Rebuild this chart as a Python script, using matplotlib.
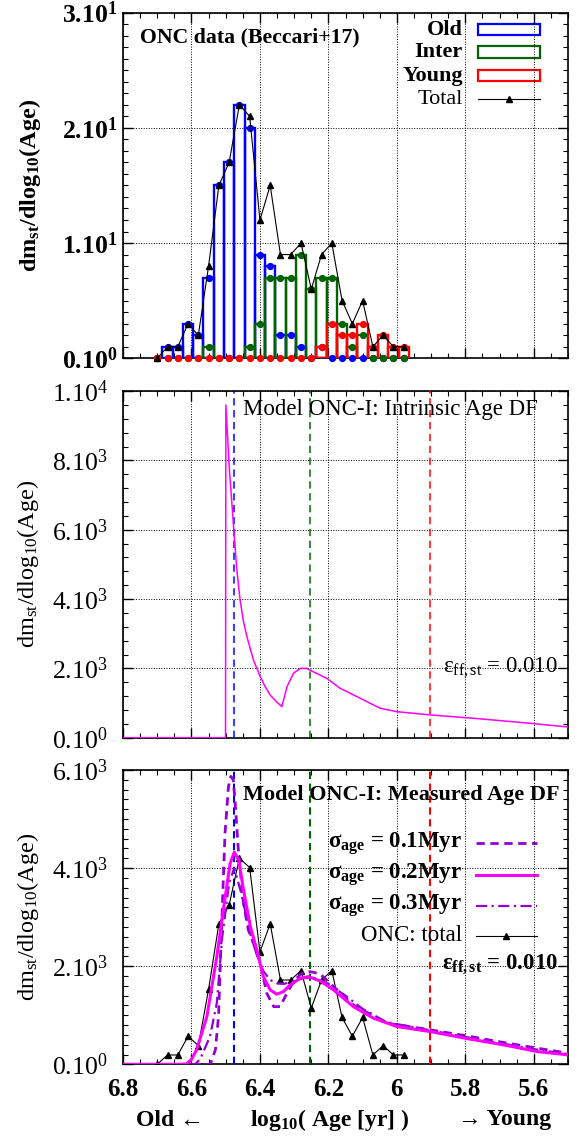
import matplotlib
matplotlib.use('Agg')
import matplotlib.pyplot as plt
import numpy as np
from matplotlib.ticker import FixedLocator, MultipleLocator, FixedFormatter, NullFormatter
from matplotlib.lines import Line2D
from matplotlib.patches import Rectangle

plt.rcParams['font.family'] = ['Liberation Serif', 'DejaVu Serif']
plt.rcParams['mathtext.fontset'] = 'custom'
plt.rcParams['mathtext.rm'] = 'Liberation Serif'
plt.rcParams['mathtext.it'] = 'Liberation Serif:italic'
plt.rcParams['mathtext.bf'] = 'Liberation Serif:bold'

# ---------------- data ----------------
bin_centers = [6.70, 6.67, 6.64, 6.61, 6.58, 6.55, 6.52, 6.49, 6.46, 6.43, 6.40, 6.37, 6.34,
               6.31, 6.28, 6.25, 6.22, 6.19, 6.16, 6.13, 6.10, 6.07, 6.04, 6.01, 5.98]
old_counts = [0, 1, 1, 3, 2, 7, 15, 17, 22, 20, 9, 8, 2, 2, 1, 0, 1, 0, 0, 0, 0, 0, 0, 0, 0]
inter_counts = [0, 0, 0, 0, 0, 1, 0, 0, 0, 1, 3, 7, 7, 7, 9, 6, 7, 7, 3, 1, 2, 0, 0, 0, 0]
young_counts = [0, 0, 0, 0, 0, 0, 0, 0, 0, 0, 0, 0, 0, 0, 0, 0, 1, 3, 2, 2, 3, 1, 2, 1, 1]
total_counts = [o + i + y for o, i, y in zip(old_counts, inter_counts, young_counts)]
onc_scale = 191.0   # normalisation of the ONC total in the bottom panel

age_bounds = [6.477, 6.255, 5.903]

intr_x = [6.80, 6.5005, 6.4995, 6.494, 6.489, 6.483, 6.477, 6.468, 6.458, 6.448, 6.438, 6.419,
          6.399, 6.385, 6.370, 6.352, 6.336, 6.321, 6.302, 6.282, 6.263, 6.244, 6.204, 6.166,
          6.136, 6.107, 6.049, 6.000, 5.900, 5.776, 5.630, 5.50]
intr_y = [0, 0, 9600, 8600, 7700, 6900, 6090, 4900, 3970, 3350, 2915, 2240,
          1760, 1480, 1230, 1040, 895, 1470, 1860, 2000, 2000, 1900, 1710, 1425,
          1280, 1137, 850, 750, 655, 560, 433, 309]

s01_x = [6.80, 6.545, 6.53, 6.521, 6.511, 6.502, 6.492, 6.485, 6.478, 6.473, 6.463, 6.448,
         6.434, 6.419, 6.399, 6.380, 6.360, 6.341, 6.321, 6.302, 6.278, 6.253, 6.224, 6.185,
         6.127, 6.029, 5.902, 5.785, 5.688, 5.590, 5.50]
s01_y = [0, 0, 300, 975, 3010, 4710, 5660, 5870, 5800, 5390, 4370, 3280,
         2740, 2470, 2060, 1450, 1177, 1177, 1450, 1687, 1857, 1890, 1843, 1585,
         1210, 839, 703, 567, 445, 330, 228]

s02_x = [6.80, 6.63, 6.614, 6.60, 6.585, 6.555, 6.526, 6.507, 6.487, 6.475, 6.462, 6.448,
         6.428, 6.409, 6.390, 6.370, 6.351, 6.331, 6.312, 6.282, 6.258, 6.224, 6.185, 6.127,
         6.068, 6.000, 5.902, 5.785, 5.688, 5.590, 5.50]
s02_y = [0, 0, 10, 100, 295, 975, 2196, 3147, 4098, 4322, 4165, 3555,
         2807, 2332, 1788, 1517, 1430, 1483, 1619, 1756, 1788, 1700, 1517, 1177,
         941, 770, 668, 513, 397, 261, 193]

s03_x = [6.80, 6.59, 6.575, 6.546, 6.526, 6.51, 6.49, 6.475, 6.455, 6.43, 6.41, 6.39, 6.37,
         6.35, 6.33, 6.30, 6.27, 6.24, 6.20, 6.15, 6.10, 6.03, 5.90, 5.785, 5.688, 5.59, 5.50]
s03_y = [0, 0, 100, 566, 1250, 2600, 3700, 4000, 3500, 2700, 2250, 1900, 1720,
         1650, 1640, 1700, 1760, 1760, 1640, 1400, 1130, 860, 690, 540, 420, 300, 210]

xtick_vals = [6.8, 6.6, 6.4, 6.2, 6.0, 5.8, 5.6]
xtick_labels = ['6.8', '6.6', '6.4', '6.2', '6', '5.8', '5.6']

top_yticks = [0, 10, 20, 30]
top_ylabels = [r'$\mathbf{0.10^{0}}$', r'$\mathbf{1.10^{1}}$', r'$\mathbf{2.10^{1}}$', r'$\mathbf{3.10^{1}}$']
mid_yticks = [0, 2000, 4000, 6000, 8000, 10000]
mid_ylabels = [r'$\mathrm{0.10^{0}}$', r'$\mathrm{2.10^{3}}$', r'$\mathrm{4.10^{3}}$',
               r'$\mathrm{6.10^{3}}$', r'$\mathrm{8.10^{3}}$', r'$\mathrm{1.10^{4}}$']
bot_yticks = [0, 2000, 4000, 6000]
bot_ylabels = [r'$\mathrm{0.10^{0}}$', r'$\mathrm{2.10^{3}}$', r'$\mathrm{4.10^{3}}$', r'$\mathrm{6.10^{3}}$']

BLUE = '#0000ff'
GREEN = '#006400'
RED = '#ff0000'
PURPLE = '#9400d3'
MAGENTA = '#ff00ff'

# ---------------- figure ----------------
fig = plt.figure(figsize=(5.8, 11.37), dpi=100)
ax1 = fig.add_axes([0.2121, 0.6849, 0.7672, 0.3040])
ax2 = fig.add_axes([0.2121, 0.3512, 0.7672, 0.3048])
ax3 = fig.add_axes([0.2121, 0.0639, 0.7672, 0.2589])

XT_FS = 18
YT_FS = 18.5


def style(ax, yticks, ylabels, yminor, ylim, show_x, ypad):
    ax.set_xlim(6.8, 5.5)
    ax.set_ylim(*ylim)
    ax.xaxis.set_major_locator(FixedLocator(xtick_vals))
    ax.xaxis.set_minor_locator(MultipleLocator(0.05))
    ax.yaxis.set_major_locator(FixedLocator(yticks))
    ax.yaxis.set_minor_locator(MultipleLocator(yminor))
    ax.yaxis.set_major_formatter(FixedFormatter(ylabels))
    if show_x:
        ax.xaxis.set_major_formatter(FixedFormatter(xtick_labels))
        for t in ax.get_xticklabels():
            t.set_fontweight('bold')
    else:
        ax.xaxis.set_major_formatter(NullFormatter())
    ax.tick_params(which='both', direction='in', top=True, right=True)
    ax.tick_params(which='major', length=7, width=1.0, labelsize=XT_FS, pad=10)
    ax.tick_params(axis='y', which='major', labelsize=YT_FS, pad=ypad)
    ax.tick_params(which='minor', length=3.5, width=0.8)
    ax.grid(True, which='major', color='k', linestyle=(0, (1, 1.6)), linewidth=0.7)
    for s in ax.spines.values():
        s.set_linewidth(1.2)
    ax.set_axisbelow(False)


style(ax1, top_yticks, top_ylabels, 1, (0, 30), False, 4)
style(ax2, mid_yticks, mid_ylabels, 400, (0, 10000), False, 11)
style(ax3, bot_yticks, bot_ylabels, 200, (0, 6000), True, 11)

# ---------------- top panel ----------------
bc = np.array(bin_centers)
for counts, col, z in [(old_counts, BLUE, 3), (inter_counts, GREEN, 4), (young_counts, RED, 5)]:
    c = np.array(counts)
    m = c > 0
    ax1.bar(bc[m], c[m], width=0.03, fill=False, edgecolor=col, linewidth=1.7, zorder=z)
for counts, col, z in [(old_counts, BLUE, 6), (inter_counts, GREEN, 7), (young_counts, RED, 8)]:
    ax1.plot(bc, counts, 'o', color=col, ms=4.2, zorder=z, clip_on=False)
ax1.plot(bc, total_counts, '-^', color='k', lw=0.8, ms=5, zorder=9, clip_on=False)

ax1.text(0.038, 0.927, 'ONC data (Beccari+17)', transform=ax1.transAxes, fontsize=15.7,
         fontweight='bold', ha='left', va='center')

leg_rows = [0.951, 0.886, 0.817, 0.750]
for (lab, col, bold), yy in zip([('Old', BLUE, True), ('Inter', GREEN, True), ('Young', RED, True)], leg_rows[:3]):
    ax1.text(0.764, yy, lab, transform=ax1.transAxes, fontsize=16,
             fontweight='bold' if bold else 'normal', ha='right', va='center')
    ax1.add_patch(Rectangle((0.798, yy - 0.016), 0.139, 0.032, transform=ax1.transAxes,
                            fill=False, edgecolor=col, linewidth=1.6, clip_on=False))
ax1.text(0.764, leg_rows[3], 'Total', transform=ax1.transAxes, fontsize=16, ha='right', va='center')
ax1.add_line(Line2D([0.798, 0.937], [leg_rows[3]] * 2, transform=ax1.transAxes, color='k', lw=0.8))
ax1.add_line(Line2D([0.8675], [leg_rows[3]], transform=ax1.transAxes, color='k', marker='^', ms=5))

# ---------------- middle panel ----------------
for xb, col in zip(age_bounds, [BLUE, GREEN, RED]):
    ax2.axvline(xb, color=col, lw=1.5, dashes=(3.5, 2.2), alpha=0.75, zorder=3)
ax2.plot(intr_x, intr_y, color=MAGENTA, lw=1.1, zorder=5)
ax2.text(0.270, 0.946, 'Model ONC-I: Intrinsic Age DF', transform=ax2.transAxes, fontsize=16.5,
         ha='left', va='center')
ax2.text(0.978, 0.201, r'$\mathrm{ε_{ff,st}}$ = 0.010', transform=ax2.transAxes, fontsize=16.5,
         ha='right', va='center')

# ---------------- bottom panel ----------------
for xb, col in zip(age_bounds, [BLUE, GREEN, RED]):
    ax3.axvline(xb, color=col, lw=1.5, dashes=(3.5, 2.2), zorder=3)
ax3.plot(bc, np.array(total_counts) * onc_scale, '-^', color='k', lw=0.8, ms=5, zorder=4)
ax3.plot(s03_x, s03_y, color=PURPLE, lw=1.6, dashes=(5, 2, 1, 2), zorder=5)
ax3.plot(s01_x, s01_y, color=PURPLE, lw=2.0, dashes=(3, 2), zorder=6)
ax3.plot(s02_x, s02_y, color=MAGENTA, lw=2.2, zorder=7)

ax3.text(0.270, 0.915, 'Model ONC-I: Measured Age DF', transform=ax3.transAxes, fontsize=16,
         fontweight='bold', ha='left', va='center')
rows3 = [0.751, 0.643, 0.539, 0.437]
legs3 = [(r'$\mathbf{σ_{age}}$ = 0.1Myr', dict(color=PURPLE, lw=2.0, dashes=(3, 2))),
         (r'$\mathbf{σ_{age}}$ = 0.2Myr', dict(color=MAGENTA, lw=2.2)),
         (r'$\mathbf{σ_{age}}$ = 0.3Myr', dict(color=PURPLE, lw=1.6, dashes=(5, 2, 1, 2)))]
for (lab, kw), yy in zip(legs3, rows3[:3]):
    ax3.text(0.762, yy, lab, transform=ax3.transAxes, fontsize=16.5, fontweight='bold',
             ha='right', va='center')
    ax3.add_line(Line2D([0.793, 0.930], [yy, yy], transform=ax3.transAxes, **kw))
ax3.text(0.762, rows3[3], 'ONC: total', transform=ax3.transAxes, fontsize=16.5, ha='right', va='center')
ax3.add_line(Line2D([0.793, 0.930], [rows3[3]] * 2, transform=ax3.transAxes, color='k', lw=0.8))
ax3.add_line(Line2D([0.8615], [rows3[3]], transform=ax3.transAxes, color='k', marker='^', ms=5))
ax3.text(0.978, 0.338, r'$\mathbf{ε_{ff,st}}$ = 0.010', transform=ax3.transAxes, fontsize=16.5,
         fontweight='bold', ha='right', va='center')

# ---------------- axis labels ----------------
fig.text(0.052, 1 - 185 / 1137, r'$\mathbf{dm_{st}/dlog_{10}(Age)}$', rotation=90, fontsize=17.5,
         ha='center', va='center')
fig.text(0.049, 1 - 564 / 1137, r'$\mathrm{dm_{st}/dlog_{10}(Age)}$', rotation=90, fontsize=17.5,
         ha='center', va='center')
fig.text(0.049, 1 - 917 / 1137, r'$\mathrm{dm_{st}/dlog_{10}(Age)}$', rotation=90, fontsize=17.5,
         ha='center', va='center')

fig.text(170 / 580, 1 - 1120 / 1137, 'Old ←', fontsize=17, fontweight='bold', ha='center', va='center')
fig.text(330 / 580, 1 - 1120 / 1137, r'$\mathbf{log_{10}}$( Age [yr] )', fontsize=17, fontweight='bold',
         ha='center', va='center')
fig.text(505 / 580, 1 - 1120 / 1137, '→ Young', fontsize=17, fontweight='bold', ha='center', va='center')

fig.savefig('out.png', dpi=100)
